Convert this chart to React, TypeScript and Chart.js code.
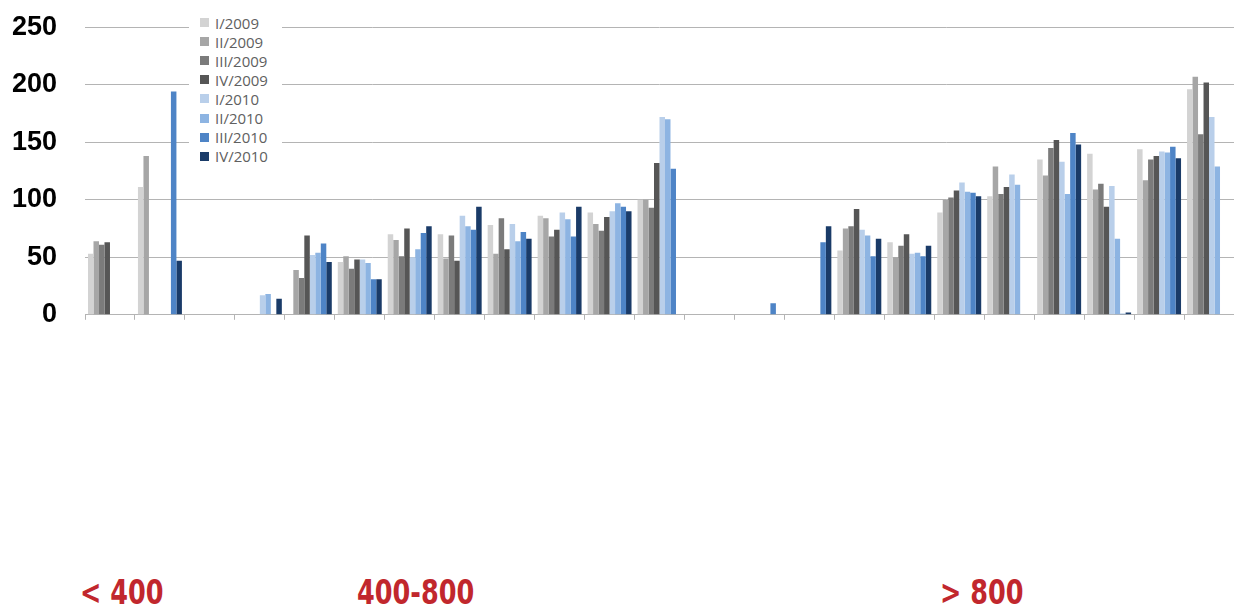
import React, { useEffect, useRef } from "react";
import { Chart, registerables } from "chart.js";

Chart.register(...registerables);

const CATEGORIES = [
  "1", "2", "3", "4", "5", "6", "7", "8", "9", "10", "11", "12",
  "13", "14", "15", "16", "17", "18", "19", "20", "21", "22", "23",
];

const SERIES_LABELS = ["I/2009", "II/2009", "III/2009", "IV/2009", "I/2010", "II/2010", "III/2010", "IV/2010"];
const SERIES_COLORS = ["#d3d3d3", "#a6a6a6", "#7b7b7b", "#565656", "#b9cfea", "#8db4e2", "#4e84c6", "#1a3b68"];

const I_2009 = [53, 111, null, null, null, 46, 70, 70, 78, 86, 89, 100, null, null, null, 56, 63, 89, 103, 135, 140, 144, 196];
const II_2009 = [64, 138, null, null, 39, 51, 65, 49, 53, 84, 79, 100, null, null, null, 75, 50, 100, 129, 121, 109, 117, 207];
const III_2009 = [61, null, null, null, 32, 40, 51, 69, 84, 68, 73, 93, null, null, null, 77, 60, 102, 105, 145, 114, 135, 157];
const IV_2009 = [63, null, null, null, 69, 48, 75, 47, 57, 74, 85, 132, null, null, null, 92, 70, 108, 111, 152, 94, 138, 202];
const I_2010 = [null, null, null, 17, 52, 48, 50, 86, 79, 89, 90, 172, null, null, null, 74, 53, 115, 122, 133, 112, 142, 172];
const II_2010 = [null, null, null, 18, 54, 45, 57, 77, 64, 83, 97, 170, null, null, null, 69, 54, 107, 113, 105, 66, 141, 129];
const III_2010 = [null, 194, null, null, 62, 31, 71, 74, 72, 68, 94, 127, null, 10, 63, 51, 51, 106, null, 158, 1, 146, null];
const IV_2010 = [null, 47, null, 14, 46, 31, 77, 94, 66, 94, 90, null, null, null, 77, 66, 60, 103, null, 148, 2, 136, null];

const SERIES_VALUES = [I_2009, II_2009, III_2009, IV_2009, I_2010, II_2010, III_2010, IV_2010];

const Y_TICKS = [0, 50, 100, 150, 200, 250];

const GROUP_LABELS = ["< 400", "400-800", "> 800"];
const GROUP_LEFTS = [80, 357, 940];

export default function App() {
  const canvasRef = useRef<HTMLCanvasElement | null>(null);

  useEffect(() => {
    const canvas = canvasRef.current;
    if (!canvas) return;
    const chart = new Chart(canvas, {
      type: "bar",
      data: {
        labels: CATEGORIES,
        datasets: SERIES_LABELS.map((label, i) => ({
          label,
          data: SERIES_VALUES[i],
          backgroundColor: SERIES_COLORS[i],
          borderWidth: 0,
          categoryPercentage: 0.88,
          barPercentage: 1.0,
        })),
      },
      options: {
        animation: false,
        responsive: false,
        devicePixelRatio: 1,
        layout: { padding: { top: 26, right: 0, left: 0, bottom: 0 } },
        plugins: {
          legend: { display: false },
          tooltip: { enabled: false },
        },
        scales: {
          x: {
            grid: {
              display: true,
              offset: true,
              drawOnChartArea: false,
              drawTicks: true,
              tickLength: 5,
              color: "#b4b4b4",
            },
            border: { display: true, color: "#b4b4b4" },
            ticks: { display: false },
            afterFit: (scale: any) => {
              scale.height = 15;
            },
          },
          y: {
            min: 0,
            max: 250,
            afterBuildTicks: (scale: any) => {
              scale.ticks = Y_TICKS.map((v) => ({ value: v }));
            },
            grid: {
              color: "#b4b4b4",
              lineWidth: 1,
              drawTicks: false,
            },
            border: { display: false },
            ticks: {
              padding: 28,
              color: "#000",
              font: { family: "'Liberation Sans', Arial, sans-serif", size: 27, weight: "bold" },
            },
            afterFit: (scale: any) => {
              scale.width = 85;
            },
          },
        },
      },
    });
    return () => chart.destroy();
  }, []);

  return (
    <div style={{ position: "absolute", left: 0, top: 0, width: 1234, height: 606, background: "#fff", overflow: "hidden" }}>
      <canvas ref={canvasRef} width={1234} height={376} style={{ position: "absolute", left: 0, top: -17, width: 1234, height: 376 }} />
      <div
        style={{
          position: "absolute",
          left: 189,
          top: 10,
          width: 93,
          height: 156,
          background: "#fff",
        }}
      >
        {SERIES_LABELS.map((label, i) => (
          <div
            key={label}
            style={{
              position: "absolute",
              left: 11,
              top: 3 + i * 19.1,
              height: 19,
              display: "flex",
              alignItems: "center",
              whiteSpace: "nowrap",
            }}
          >
            <span style={{ display: "inline-block", width: 9, height: 9, background: SERIES_COLORS[i], marginRight: 6 }} />
            <span style={{ fontFamily: "'Open Sans', 'Liberation Sans', sans-serif", fontSize: 15, color: "#606060" }}>{label}</span>
          </div>
        ))}
      </div>
      {GROUP_LABELS.map((g, i) => (
        <div
          key={g}
          style={{
            position: "absolute",
            left: GROUP_LEFTS[i],
            top: 574,
            fontFamily: "'Liberation Sans Narrow', 'DejaVu Sans Condensed', sans-serif",
            fontWeight: "bold",
            fontSize: 33,
            color: "#c1272d",
            whiteSpace: "nowrap",
            lineHeight: "38px",
            transform: "scaleX(0.86)",
            transformOrigin: "left center",
          }}
        >
          {g}
        </div>
      ))}
    </div>
  );
}
